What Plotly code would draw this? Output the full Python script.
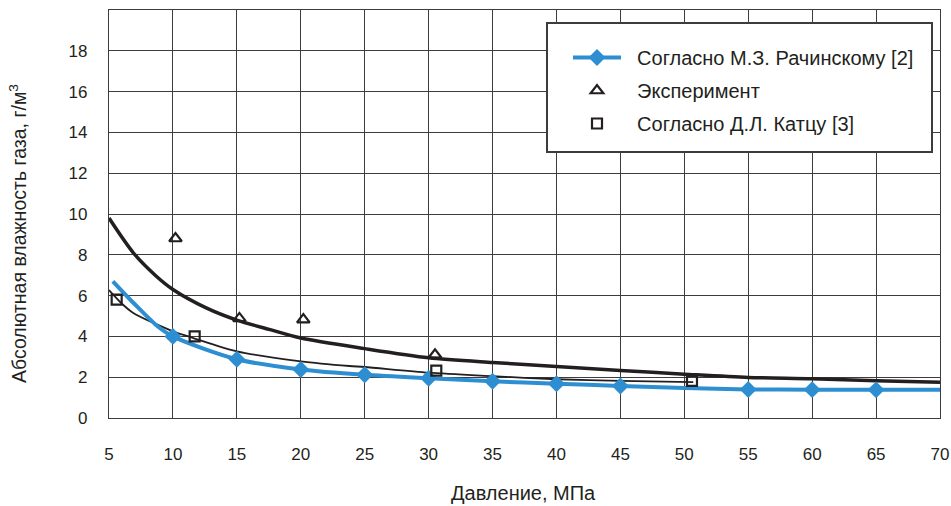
import plotly.graph_objects as go

# ---- data ----
rach_line_x = [5.3, 6.9, 8.7, 10, 15, 20, 25, 30, 35, 40, 45, 50, 55, 60, 65, 70]
rach_line_y = [6.7, 5.65, 4.55, 4.0, 2.88, 2.38, 2.12, 1.95, 1.8, 1.68, 1.57, 1.47, 1.4, 1.39, 1.38, 1.38]
rach_mark_x = [10, 15, 20, 25, 30, 35, 40, 45, 55, 60, 65]
rach_mark_y = [4.0, 2.88, 2.38, 2.12, 1.95, 1.8, 1.68, 1.57, 1.4, 1.39, 1.38]

exp_fit_x = [5, 6.9, 8.7, 10, 12.6, 15, 17.6, 20, 25, 30, 35, 40, 45, 50, 55, 60, 65, 70]
exp_fit_y = [9.8, 8.1, 6.95, 6.3, 5.4, 4.8, 4.33, 3.92, 3.4, 2.95, 2.72, 2.53, 2.33, 2.15, 1.99, 1.93, 1.83, 1.75]

katz_fit_x = [5, 6.1, 6.9, 10, 11.6, 15, 20, 23.8, 25, 30, 35, 40, 45, 50.7]
katz_fit_y = [6.27, 5.55, 5.15, 4.25, 3.92, 3.27, 2.78, 2.55, 2.5, 2.22, 2.05, 1.9, 1.82, 1.76]

exp_x = [10.2, 15.2, 20.2, 30.5]
exp_y = [8.8, 4.88, 4.82, 3.1]

katz_x = [5.6, 11.7, 30.6, 50.6, 70.3]
katz_y = [5.8, 4.0, 2.32, 1.82, 1.46]

x_ticks = [5, 10, 15, 20, 25, 30, 35, 40, 45, 50, 55, 60, 65, 70]
y_ticks = [0, 2, 4, 6, 8, 10, 12, 14, 16, 18]

names = ["Согласно М.З. Рачинскому [2]", "Эксперимент", "Согласно Д.Л. Катцу [3]"]
x_title = "Давление, МПа"
y_title = "Абсолютная влажность газа, г/м<sup>3</sup>"

BLUE = "#2d8fd1"
BLACK = "#231f20"
FONT = "Liberation Sans, Arial, sans-serif"
PAD = "\u00a0\u00a0"

fig = go.Figure()

fig.add_trace(go.Scatter(x=exp_fit_x, y=exp_fit_y, mode="lines",
                         line=dict(color=BLACK, width=3.5, shape="spline", smoothing=0.8),
                         showlegend=False, hoverinfo="skip"))
fig.add_trace(go.Scatter(x=katz_fit_x, y=katz_fit_y, mode="lines",
                         line=dict(color=BLACK, width=1.8, shape="spline", smoothing=0.8),
                         showlegend=False, hoverinfo="skip"))
fig.add_trace(go.Scatter(x=rach_line_x, y=rach_line_y, mode="lines",
                         line=dict(color=BLUE, width=4, shape="spline", smoothing=0.8),
                         showlegend=False, hoverinfo="skip"))
fig.add_trace(go.Scatter(x=rach_mark_x, y=rach_mark_y, mode="markers",
                         marker=dict(symbol="diamond", size=13, color=BLUE),
                         showlegend=False))
fig.add_trace(go.Scatter(x=exp_x, y=exp_y, mode="markers", name=PAD + names[1],
                         legendgroup="b", legendrank=2,
                         marker=dict(symbol="triangle-up-open", size=11,
                                     color=BLACK, line=dict(width=2.2, color=BLACK)),
                         cliponaxis=False))
fig.add_trace(go.Scatter(x=katz_x, y=katz_y, mode="markers", name=PAD + names[2],
                         legendgroup="c", legendrank=3,
                         marker=dict(symbol="square-open", size=10,
                                     color=BLACK, line=dict(width=2.2, color=BLACK)),
                         cliponaxis=False))
# legend entry for the blue series
fig.add_trace(go.Scatter(x=[None], y=[None], mode="lines+markers", name=PAD + names[0],
                         legendgroup="a", legendrank=1,
                         line=dict(color=BLUE, width=4),
                         marker=dict(symbol="diamond", size=13, color=BLUE)))

L, R, T, B = 109, 11, 10, 88
W, H = 951, 506
pw, ph = W - L - R, H - T - B

def px_x(p):
    return (p - L) / pw

def px_y(p):
    return (H - B - p) / ph

fig.update_layout(
    width=W, height=H,
    margin=dict(l=L, r=R, t=T, b=B, autoexpand=False),
    paper_bgcolor="white", plot_bgcolor="white",
    font=dict(family=FONT, size=17, color="#231f20"),
    showlegend=True,
    legend=dict(x=px_x(568), y=px_y(38), xanchor="left", yanchor="top",
                bgcolor="rgba(0,0,0,0)", borderwidth=0,
                itemwidth=48, tracegroupgap=4,
                font=dict(family=FONT, size=20, color="#231f20")),
    xaxis=dict(range=[5, 70], tickvals=x_ticks, ticktext=[str(v) for v in x_ticks],
               showgrid=True, gridcolor="#3c3c3c", gridwidth=1.3,
               showline=True, linecolor="#3c3c3c", linewidth=1.3, mirror=True,
               ticks="", ticklabelstandoff=20, zeroline=False, automargin=False,
               tickfont=dict(family=FONT, size=17)),
    yaxis=dict(range=[0, 20], tickvals=y_ticks, ticktext=[str(v) for v in y_ticks],
               showgrid=True, gridcolor="#3c3c3c", gridwidth=1.3,
               showline=True, linecolor="#3c3c3c", linewidth=1.3, mirror=True,
               ticks="", ticklabelstandoff=17, zeroline=False, automargin=False,
               tickfont=dict(family=FONT, size=17)),
    shapes=[dict(type="rect", xref="paper", yref="paper", layer="above",
                 x0=px_x(547), x1=px_x(932), y0=px_y(152), y1=px_y(23),
                 fillcolor="white", line=dict(color="#3c3c3c", width=2))],
    annotations=[
        dict(text=x_title, xref="paper", yref="paper", x=px_x(523), y=px_y(493),
             xanchor="center", yanchor="middle", showarrow=False,
             font=dict(family=FONT, size=20)),
        dict(text=y_title, xref="paper", yref="paper", x=px_x(18), y=px_y(234),
             xanchor="center", yanchor="middle", showarrow=False, textangle=-90,
             font=dict(family=FONT, size=19.5)),
    ],
)

fig.write_html("out.html")
